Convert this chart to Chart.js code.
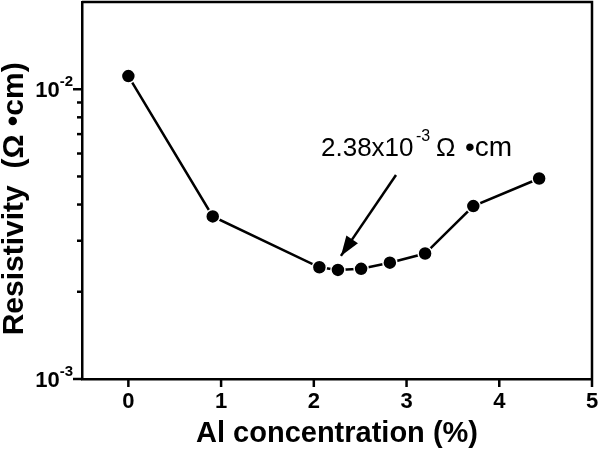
<!DOCTYPE html>
<html>
<head>
<meta charset="utf-8">
<script src="https://cdn.jsdelivr.net/npm/chart.js@4/dist/chart.umd.min.js"></script>
<style>
  html, body { margin: 0; padding: 0; background: #fff; }
  #chart { display: block; }
</style>
</head>
<body>
<canvas id="chart" width="600" height="451"></canvas>
<script>
// Al concentration (%) vs resistivity (ohm cm)
const alConcentration = [0, 0.91, 2.06, 2.26, 2.51, 2.82, 3.20, 3.72, 4.43];
const resistivity = [1.11e-2, 3.64e-3, 2.43e-3, 2.38e-3, 2.40e-3, 2.52e-3, 2.71e-3, 3.95e-3, 4.92e-3];

const xTicks = [0, 1, 2, 3, 4, 5];
const yMajorTicks = [1e-3, 1e-2];
const yMajorExp = ['-3', '-2'];
const yMinorTicks = [2e-3, 3e-3, 4e-3, 5e-3, 6e-3, 7e-3, 8e-3, 9e-3];

const FONT = '"Liberation Sans", Arial, Helvetica, sans-serif';

// ticks, tick labels, frame and the annotation arrow
const decorPlugin = {
    id: 'decor',
    afterDraw(chart) {
        const ctx = chart.ctx;
        const area = chart.chartArea;
        const xs = chart.scales.x;
        const ys = chart.scales.y;
        ctx.save();
        ctx.strokeStyle = '#000';
        ctx.fillStyle = '#000';
        ctx.lineWidth = 2.5;

        // frame (top and right)
        ctx.beginPath();
        ctx.moveTo(area.left, area.top);
        ctx.lineTo(area.right, area.top);
        ctx.lineTo(area.right, area.bottom);
        ctx.stroke();

        // x ticks + labels
        ctx.font = 'bold 22px ' + FONT;
        ctx.textAlign = 'center';
        ctx.textBaseline = 'middle';
        xTicks.forEach(v => {
            const px = xs.getPixelForValue(v);
            ctx.beginPath();
            ctx.moveTo(px, area.bottom);
            ctx.lineTo(px, area.bottom + 8);
            ctx.stroke();
            ctx.fillText(String(v), px, area.bottom + 23);
        });

        // y minor ticks
        yMinorTicks.forEach(v => {
            const py = ys.getPixelForValue(v);
            ctx.beginPath();
            ctx.moveTo(area.left, py);
            ctx.lineTo(area.left - 5, py);
            ctx.stroke();
        });

        // y major ticks + labels with superscript exponent
        yMajorTicks.forEach((v, i) => {
            const py = ys.getPixelForValue(v);
            ctx.beginPath();
            ctx.moveTo(area.left, py);
            ctx.lineTo(area.left - 9, py);
            ctx.stroke();
            ctx.textAlign = 'right';
            ctx.textBaseline = 'alphabetic';
            ctx.font = 'bold 15px ' + FONT;
            const expW = ctx.measureText(yMajorExp[i]).width;
            ctx.fillText(yMajorExp[i], 73, py - 3);
            ctx.font = 'bold 22px ' + FONT;
            ctx.fillText('10', 73 - expW, py + 8);
        });

        // annotation for the minimum
        const tipX = xs.getPixelForValue(alConcentration[3]) + 3;
        const tipY = ys.getPixelForValue(resistivity[3]) - 14;
        const tailX = 396, tailY = 175;
        ctx.lineWidth = 2.5;
        ctx.beginPath();
        ctx.moveTo(tailX, tailY);
        ctx.lineTo(tipX, tipY);
        ctx.stroke();
        const ang = Math.atan2(tipY - tailY, tipX - tailX);
        const hl = 20, hw = 7;
        ctx.beginPath();
        ctx.moveTo(tipX, tipY);
        ctx.lineTo(tipX - hl * Math.cos(ang) + hw * Math.sin(ang), tipY - hl * Math.sin(ang) - hw * Math.cos(ang));
        ctx.lineTo(tipX - hl * Math.cos(ang) - hw * Math.sin(ang), tipY - hl * Math.sin(ang) + hw * Math.cos(ang));
        ctx.closePath();
        ctx.fill();

        ctx.textAlign = 'left';
        ctx.textBaseline = 'alphabetic';
        const base = 156;
        ctx.font = '26px ' + FONT;
        ctx.fillText('2.38x10', 321, base);
        ctx.font = '16px ' + FONT;
        ctx.fillText('-3', 416, base - 15);
        ctx.font = '26px ' + FONT;
        ctx.fillText('\u03A9', 436, base);
        ctx.font = '28px ' + FONT;
        ctx.fillText('\u2022cm', 465, base);
        ctx.restore();
    }
};

const ctx = document.getElementById('chart').getContext('2d');
new Chart(ctx, {
    type: 'line',
    data: {
        datasets: [{
            label: 'Resistivity',
            data: alConcentration.map((x, i) => ({ x: x, y: resistivity[i] })),
            borderColor: '#000',
            borderWidth: 2.5,
            pointRadius: 7,
            pointBackgroundColor: '#000',
            pointBorderColor: '#fff',
            pointBorderWidth: 1.5,
            tension: 0,
            fill: false
        }]
    },
    options: {
        responsive: false,
        animation: false,
        layout: { autoPadding: false, padding: { top: 2, right: 8, left: 0, bottom: 0 } },
        plugins: {
            legend: { display: false },
            tooltip: { enabled: false }
        },
        scales: {
            x: {
                type: 'linear',
                min: -0.5,
                max: 5,
                grid: { display: false },
                border: { display: true, color: '#000', width: 2.5 },
                ticks: { display: false },
                title: {
                    display: true,
                    text: 'Al concentration (%)',
                    color: '#000',
                    font: { family: FONT, size: 29, weight: 'bold', lineHeight: 1 },
                    padding: { top: 0, bottom: 3 }
                },
                afterFit(scale) { scale.height = 72; }
            },
            y: {
                type: 'logarithmic',
                min: 1e-3,
                max: 2e-2,
                grid: { display: false },
                border: { display: true, color: '#000', width: 2.5 },
                ticks: { display: false },
                title: {
                    display: true,
                    text: 'Resistivity  (\u03A9 \u2022cm)  ',
                    color: '#000',
                    font: { family: FONT, size: 30, weight: 'bold', lineHeight: 1 },
                    padding: { top: 0, bottom: 0 }
                },
                afterFit(scale) { scale.width = 82; }
            }
        }
    },
    plugins: [decorPlugin]
});
</script>
</body>
</html>
